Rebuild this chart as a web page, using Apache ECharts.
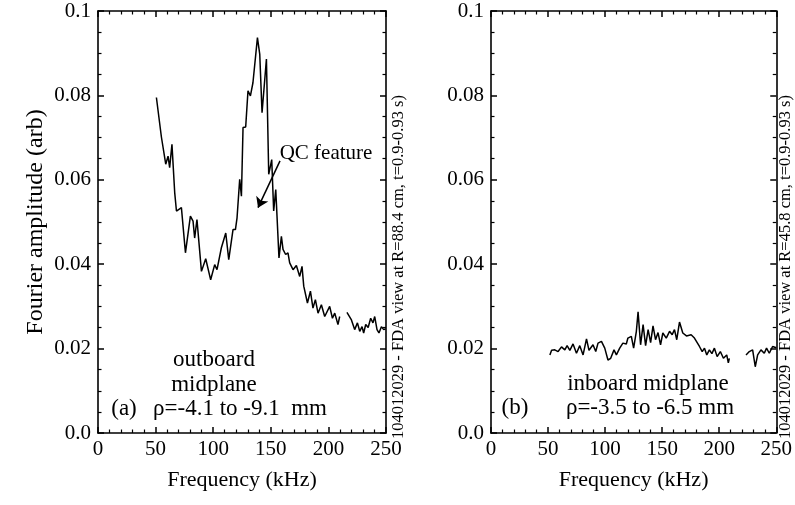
<!DOCTYPE html>
<html>
<head>
<meta charset="utf-8">
<script src="https://cdn.jsdelivr.net/npm/echarts@6/dist/echarts.min.js"></script>
<style>
  html, body { margin: 0; padding: 0; background: #fff; }
  #main { width: 795px; height: 505px; }
</style>
</head>
<body>
<div id="main"></div>
<script>
// outboard (a): frequency in kHz, amplitude in arb; null = gap in the trace
var outFreq = [50.7, 55.0, 56.4, 58.8, 60.8, 62.2, 64.2, 66.6, 68.1, 72.4, 75.9, 80.2, 82.5, 83.9, 85.9,
  89.8, 93.5, 97.8, 101.3, 103.3, 107.1, 110.9, 113.5, 117.2, 119.3, 120.7, 123.0, 124.5, 125.9, 128.2,
  130.2, 132.3, 134.5, 138.4, 140.4, 142.4, 146.2, 148.2, 150.8, 152.5, 154.3, 157.1, 159.2, 160.6, 162.9,
  164.9, 166.4, 169.3, 172.2, 175.1, 177.1, 178.6, 181.8, 184.4, 186.6, 188.7, 191.0, 193.9, 196.8, 201.1,
  203.5, 205.5, 208.3, 209.8, 213.0, 216.1, 220.0, 222.8, 225.2, 227.2, 229.2, 230.6, 232.4, 234.5, 236.7,
  238.7, 240.2, 242.2, 243.9, 246.0, 248.0, 249.7];
var outAmp = [0.0795, 0.0702, 0.0700, 0.0637, 0.0656, 0.0629, 0.0684, 0.0569, 0.0526, 0.0534, 0.0427, 0.0514, 0.0502, 0.0462, 0.0506,
  0.0383, 0.0413, 0.0363, 0.0399, 0.0387, 0.0439, 0.0474, 0.0411, 0.0482, 0.0482, 0.0510, 0.0601, 0.0561, 0.0724, 0.0725,
  0.0811, 0.0799, 0.0830, 0.0937, 0.0898, 0.0759, 0.0886, 0.0613, 0.0648, 0.0526, 0.0577, 0.0415, 0.0466, 0.0435, 0.0423,
  0.0427, 0.0403, 0.0387, 0.0397, 0.0371, 0.0395, 0.0348, 0.0308, 0.0336, 0.0296, 0.0316, 0.0284, 0.0304, 0.0276, 0.0300,
  0.0272, 0.0284, 0.0257, 0.0276, null, 0.0286, 0.0268, 0.0245, 0.0261, 0.0241, 0.0252, 0.0237, 0.0257, 0.0250, 0.0272,
  0.0261, 0.0276, 0.0245, 0.0237, 0.0252, 0.0245, 0.0247];

// inboard (b)
var inFreq = [51.6, 53.1, 55.9, 58.8, 61.8, 64.7, 66.7, 69.1, 71.9, 74.9, 77.8, 80.7, 83.7, 85.9, 89.4,
  91.8, 93.8, 96.8, 99.7, 102.5, 104.9, 107.8, 109.9, 112.8, 115.6, 118.6, 120.0, 123.0, 125.0, 127.4,
  128.9, 131.1, 133.3, 135.5, 137.7, 139.9, 142.0, 144.2, 146.4, 148.6, 150.6, 153.6, 156.5, 158.8, 160.8,
  162.8, 165.2, 168.1, 171.3, 175.4, 178.3, 182.7, 185.1, 187.1, 189.1, 191.4, 193.6, 195.8, 198.2, 201.0,
  203.7, 206.6, 208.0, 208.9, 216.0, 223.5, 226.4, 229.3, 231.6, 233.7, 236.6, 239.5, 241.5, 243.9, 246.8, 250.0];
var inAmp = [0.0185, 0.0196, 0.0197, 0.0193, 0.0204, 0.0197, 0.0207, 0.0196, 0.0211, 0.0189, 0.0207, 0.0185, 0.0223, 0.0196, 0.0209,
  0.0193, 0.0213, 0.0217, 0.0201, 0.0173, 0.0177, 0.0197, 0.0185, 0.0201, 0.0213, 0.0211, 0.0225, 0.0229, 0.0201, 0.0241,
  0.0287, 0.0209, 0.0257, 0.0207, 0.0245, 0.0214, 0.0254, 0.0221, 0.0238, 0.0209, 0.0237, 0.0225, 0.0241, 0.0233, 0.0245,
  0.0221, 0.0263, 0.0237, 0.0230, 0.0233, 0.0225, 0.0205, 0.0193, 0.0201, 0.0185, 0.0197, 0.0188, 0.0201, 0.0181, 0.0193,
  0.0177, 0.0185, 0.0166, 0.0177, null, 0.0185, 0.0193, 0.0197, 0.0157, 0.0185, 0.0197, 0.0189, 0.0201, 0.0189, 0.0205, 0.0202];

var yTickLabels = { "0": "0.0", "0.02": "0.02", "0.04": "0.04", "0.06": "0.06", "0.08": "0.08", "0.1": "0.1" };

function pairs(xs, ys) {
  return xs.map(function (x, i) { return [x, ys[i]]; });
}

var serif = "'Liberation Serif', 'Times New Roman', serif";
var grids = [
  { left: 98, right: 409, top: 11, bottom: 72 },
  { left: 491, right: 18, top: 11, bottom: 72 }
];

function xAx(gi, pos, showName) {
  return {
    type: "value", gridIndex: gi, position: pos, min: 0, max: 250, interval: 50,
    name: showName ? "Frequency (kHz)" : "", nameLocation: "middle", nameGap: 36,
    nameTextStyle: { fontFamily: serif, fontSize: 22, color: "#000" },
    axisLine: { show: true, onZero: false, lineStyle: { color: "#000", width: 1.6 } },
    axisTick: { show: true, inside: true, length: 6, lineStyle: { color: "#000", width: 1.5 } },
    minorTick: { show: true, splitNumber: 5, length: 3.5, lineStyle: { color: "#000", width: 1.2 } },
    axisLabel: { show: pos === "bottom", fontFamily: serif, fontSize: 21, color: "#000", margin: 6 },
    splitLine: { show: false }
  };
}
function yAx(gi, pos, showName) {
  return {
    type: "value", gridIndex: gi, position: pos, min: 0, max: 0.1, interval: 0.02,
    name: showName ? "Fourier amplitude (arb)" : "", nameLocation: "middle", nameGap: 50,
    nameTextStyle: { fontFamily: serif, fontSize: 24, color: "#000" },
    axisLine: { show: true, onZero: false, lineStyle: { color: "#000", width: 1.6 } },
    axisTick: { show: true, inside: true, length: 6, lineStyle: { color: "#000", width: 1.5 } },
    minorTick: { show: true, splitNumber: 4, length: 3.5, lineStyle: { color: "#000", width: 1.2 } },
    axisLabel: {
      show: pos === "left", fontFamily: serif, fontSize: 21, color: "#000", margin: 7,
      formatter: function (v) { return yTickLabels[String(+v.toFixed(3))]; }
    },
    splitLine: { show: false }
  };
}

var lineStyle = { color: "#000", width: 1.5 };
var myChart = echarts.init(document.getElementById("main"));
var option = {
  backgroundColor: "#fff",
  animation: false,
  grid: grids,
  xAxis: [xAx(0, "bottom", true), xAx(1, "bottom", true), xAx(0, "top", false), xAx(1, "top", false)],
  yAxis: [yAx(0, "left", true), yAx(1, "left", false), yAx(0, "right", false), yAx(1, "right", false)],
  series: [
    {
      type: "line", xAxisIndex: 0, yAxisIndex: 0, data: pairs(outFreq, outAmp),
      showSymbol: false, connectNulls: false, lineStyle: lineStyle,
      markLine: {
        silent: true, symbol: ["none", "arrow"], symbolSize: 10,
        lineStyle: { color: "#000", width: 1.5, type: "solid" }, label: { show: false },
        data: [[{ coord: [158, 0.0645] }, { coord: [138.9, 0.0534] }]]
      }
    },
    {
      type: "line", xAxisIndex: 1, yAxisIndex: 1, data: pairs(inFreq, inAmp),
      showSymbol: false, connectNulls: false, lineStyle: lineStyle
    }
  ],
  graphic: [
    { type: "text", x: 326, y: 153, style: { text: "QC feature", font: "21px " + serif, fill: "#000", align: "center", verticalAlign: "middle" } },
    { type: "text", x: 214, y: 360, style: { text: "outboard", font: "23px " + serif, fill: "#000", align: "center", verticalAlign: "middle" } },
    { type: "text", x: 214, y: 385, style: { text: "midplane", font: "23px " + serif, fill: "#000", align: "center", verticalAlign: "middle" } },
    { type: "text", x: 240, y: 409, style: { text: "\u03c1=-4.1 to -9.1  mm", font: "23px " + serif, fill: "#000", align: "center", verticalAlign: "middle" } },
    { type: "text", x: 124, y: 409, style: { text: "(a)", font: "23px " + serif, fill: "#000", align: "center", verticalAlign: "middle" } },
    { type: "text", x: 648, y: 384, style: { text: "inboard midplane", font: "23px " + serif, fill: "#000", align: "center", verticalAlign: "middle" } },
    { type: "text", x: 650, y: 408, style: { text: "\u03c1=-3.5 to -6.5 mm", font: "23px " + serif, fill: "#000", align: "center", verticalAlign: "middle" } },
    { type: "text", x: 515, y: 408, style: { text: "(b)", font: "23px " + serif, fill: "#000", align: "center", verticalAlign: "middle" } },
    { type: "text", x: 399, y: 267, rotation: Math.PI / 2, style: { text: "104012029 - FDA view at R=88.4 cm, t=0.9-0.93 s)", font: "16.5px " + serif, fill: "#000", align: "center", verticalAlign: "middle" } },
    { type: "text", x: 786, y: 267, rotation: Math.PI / 2, style: { text: "104012029 - FDA view at R=45.8 cm, t=0.9-0.93 s)", font: "16.5px " + serif, fill: "#000", align: "center", verticalAlign: "middle" } }
  ]
};
option && myChart.setOption(option);
</script>
</body>
</html>
